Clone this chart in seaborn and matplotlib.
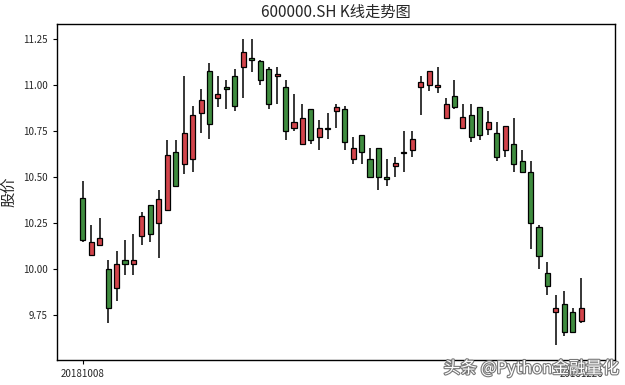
import matplotlib
matplotlib.use('Agg')
import matplotlib.pyplot as plt
import matplotlib.patheffects as pe
import numpy as np
import pandas as pd
import seaborn as sns

# OHLC values (60 trading days)
opens = [10.39, 10.08, 10.13, 10.00, 9.90, 10.05, 10.03, 10.18, 10.35, 10.25,
         10.32, 10.64, 10.57, 10.60, 10.85, 11.08, 10.93, 10.99, 11.05, 11.10,
         11.15, 11.13, 11.09, 11.05, 10.99, 10.77, 10.68, 10.87, 10.72, 10.77,
         10.86, 10.87, 10.60, 10.73, 10.60, 10.66, 10.50, 10.56, 10.63, 10.65,
         10.99, 11.00, 10.99, 10.82, 10.94, 10.77, 10.84, 10.88, 10.76, 10.74,
         10.65, 10.68, 10.59, 10.53, 10.23, 9.98, 9.77, 9.81, 9.77, 9.72]
highs = [10.48, 10.24, 10.28, 10.05, 10.10, 10.16, 10.19, 10.31, 10.35, 10.43,
         10.70, 10.70, 11.05, 10.89, 10.98, 11.12, 11.05, 11.03, 11.09, 11.25,
         11.25, 11.14, 11.10, 11.10, 11.03, 10.95, 10.90, 10.87, 10.81, 10.85,
         10.90, 10.89, 10.72, 10.73, 10.66, 10.66, 10.60, 10.61, 10.75, 10.75,
         11.05, 11.08, 11.10, 10.93, 11.03, 10.90, 10.90, 10.88, 10.86, 10.80,
         10.78, 10.82, 10.65, 10.59, 10.24, 10.04, 9.86, 9.88, 9.79, 9.95]
lows = [10.15, 10.07, 10.13, 9.71, 9.83, 9.97, 9.97, 10.13, 10.15, 10.06,
        10.32, 10.45, 10.52, 10.53, 10.74, 10.71, 10.88, 10.87, 10.86, 10.93,
        11.07, 11.00, 10.87, 10.90, 10.70, 10.75, 10.68, 10.68, 10.65, 10.71,
        10.77, 10.65, 10.57, 10.57, 10.50, 10.43, 10.45, 10.50, 10.53, 10.61,
        10.84, 10.97, 10.96, 10.82, 10.87, 10.77, 10.69, 10.70, 10.73, 10.59,
        10.61, 10.53, 10.53, 10.11, 10.00, 9.86, 9.59, 9.64, 9.66, 9.71]
closes = [10.16, 10.15, 10.17, 9.79, 10.03, 10.03, 10.05, 10.29, 10.19, 10.38,
          10.62, 10.45, 10.74, 10.84, 10.92, 10.79, 10.95, 10.98, 10.89, 11.18,
          11.14, 11.03, 10.90, 11.06, 10.75, 10.80, 10.82, 10.70, 10.77, 10.76,
          10.88, 10.69, 10.66, 10.64, 10.50, 10.50, 10.49, 10.58, 10.64, 10.71,
          11.02, 11.08, 11.00, 10.90, 10.88, 10.83, 10.72, 10.73, 10.80, 10.61,
          10.78, 10.57, 10.53, 10.25, 10.07, 9.91, 9.79, 9.66, 9.66, 9.79]

tick_pos = [0, 59]
tick_labels = ['20181008', '20181226']

df = pd.DataFrame({'open': opens, 'high': highs, 'low': lows, 'close': closes})
df['idx'] = np.arange(len(df))
df['up'] = df['close'] >= df['open']
df['bottom'] = df[['open', 'close']].min(axis=1)
df['height'] = (df['close'] - df['open']).abs()

sns.set_theme(style='ticks')
plt.rcParams['font.family'] = ['Noto Sans CJK SC', 'DejaVu Sans']
plt.rcParams['axes.unicode_minus'] = False

fig = plt.figure(figsize=(6.25, 3.85), dpi=100)
ax = fig.add_axes([0.0912, 0.0649, 0.8928, 0.8728])

# wicks
ax.vlines(df['idx'], df['low'], df['high'], color='black', linewidth=1.1, zorder=1)
# bodies
colors = np.where(df['up'], '#d2444b', '#3f8c3f')
ax.bar(df['idx'], df['height'], bottom=df['bottom'], width=0.6, color=colors,
       edgecolor='black', linewidth=0.9, zorder=2)

ax.set_xlim(-3.05, 63.0)
ax.set_xticks(tick_pos)
ax.set_xticklabels(tick_labels, fontsize=7)
ax.tick_params(axis='y', labelsize=7, length=3, width=0.8, color='black')
ax.tick_params(axis='x', length=3, width=0.8, color='black')
ax.yaxis.set_major_formatter(matplotlib.ticker.FormatStrFormatter('%.2f'))
for s in ax.spines.values():
    s.set_color('black')
    s.set_linewidth(1.0)

ax.set_title('600000.SH K线走势图', fontsize=11, pad=5)
ax.set_ylabel('股价', fontsize=11)

fig.text(0.99, 0.02, '头条 @Python金融量化', ha='right', va='bottom', fontsize=12,
         color='white', path_effects=[pe.withStroke(linewidth=1.6, foreground='#777777')])

plt.savefig('out.png', dpi=100)
